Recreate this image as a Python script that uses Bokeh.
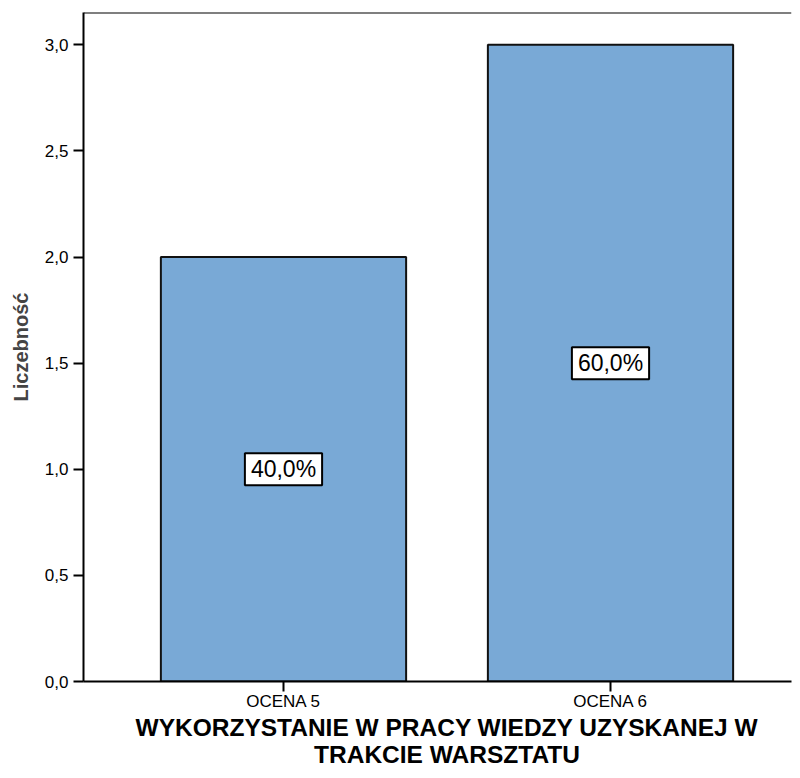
from bokeh.plotting import figure
from bokeh.models import FixedTicker, Span, Label, ColumnDataSource, LinearAxis
from bokeh.embed import file_html
from bokeh.resources import INLINE

categories = ["OCENA 5", "OCENA 6"]
counts = [2, 3]
percents = ["40,0%", "60,0%"]
y_ticks = [0.0, 0.5, 1.0, 1.5, 2.0, 2.5, 3.0]
y_tick_labels = ["0,0", "0,5", "1,0", "1,5", "2,0", "2,5", "3,0"]
x_title = "WYKORZYSTANIE W PRACY WIEDZY UZYSKANEJ W\nTRAKCIE WARSZTATU"
y_title = "Liczebność"

FONT = "Liberation Sans"
xpos = list(range(len(categories)))
x_title_pos = (xpos[0] + xpos[-1]) / 2

p = figure(width=792, height=770, output_backend="svg", toolbar_location=None,
           x_range=(-0.6116, 1.5535), y_range=(0, 3.152),
           min_border_left=83, min_border_top=12, min_border_right=1, min_border_bottom=85)
p.outline_line_color = None
p.xgrid.visible = False
p.ygrid.visible = False
p.background_fill_color = "white"

src = ColumnDataSource(dict(x=xpos, top=counts))
p.vbar(x="x", top="top", width=0.75, source=src, fill_color="#79a9d6",
       line_color="#111111", line_width=2)

# top frame line
p.add_layout(Span(location=3.152, dimension="width", line_color="black", line_width=2))

for ax in (p.xaxis[0], p.yaxis[0]):
    ax.axis_line_width = 2
    ax.axis_line_color = "black"
    ax.major_tick_line_width = 2
    ax.major_tick_line_color = "black"
    ax.major_tick_in = 0
    ax.major_tick_out = 10
    ax.minor_tick_line_color = None
    ax.major_label_text_font = FONT
    ax.major_label_text_font_size = "17px"
    ax.major_label_text_color = "black"

p.yaxis.ticker = FixedTicker(ticks=y_ticks)
p.yaxis.major_label_overrides = {t: l for t, l in zip(y_ticks, y_tick_labels)}
p.yaxis.axis_label = y_title
p.yaxis.axis_label_text_font = FONT
p.yaxis.axis_label_text_font_style = "bold"
p.yaxis.axis_label_text_font_size = "20px"
p.yaxis.axis_label_standoff = 10

p.xaxis.ticker = FixedTicker(ticks=xpos)
p.xaxis.major_label_overrides = {i: c for i, c in zip(xpos, categories)}
p.xaxis.major_label_standoff = 0

# axis title as a centred, two-line label of an extra tick-less axis
tax = LinearAxis(ticker=FixedTicker(ticks=[x_title_pos]),
                 major_label_overrides={x_title_pos: x_title},
                 axis_line_color=None, major_tick_line_color=None, minor_tick_line_color=None,
                 major_tick_in=0, major_tick_out=0, major_label_standoff=0,
                 major_label_text_font=FONT, major_label_text_font_size="24.5px",
                 major_label_text_font_style="bold", major_label_text_color="black",
                 major_label_text_line_height=1.0)
p.add_layout(tax, "below")

for x, c, lab in zip(xpos, counts, percents):
    p.add_layout(Label(x=x, y=c / 2, text=lab, text_align="center", text_baseline="middle",
                       text_font=FONT, text_font_size="23px", text_color="black",
                       background_fill_color="white", border_line_color="black",
                       border_line_width=2, padding=(6, 6, 3, 3)))

open("out.html", "w").write(file_html(p, INLINE))
